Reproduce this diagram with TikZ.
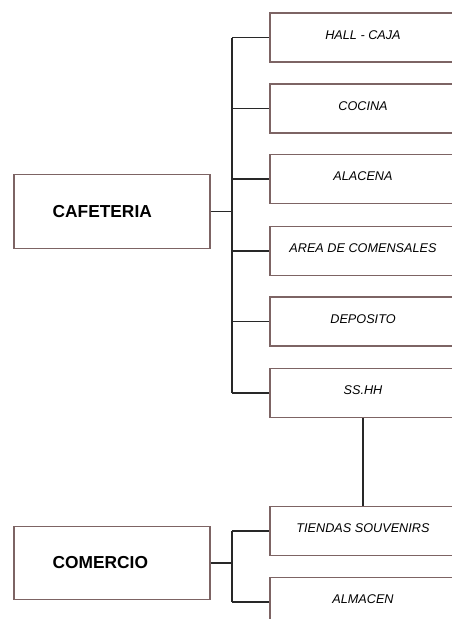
\documentclass[tikz,border=0pt]{standalone}
\usepackage{fontspec}
\setmainfont{Liberation Sans}
\usetikzlibrary{positioning}

\definecolor{boxline}{RGB}{125,100,100}
\definecolor{wire}{RGB}{40,40,40}

\begin{document}
\begin{tikzpicture}[x=0.75pt, y=-0.75pt,
  area/.style={draw=boxline, line width=0.8pt, minimum height=55pt,
    inner xsep=29pt, text width=89pt, align=left,
    font=\bfseries\fontsize{13}{15}\selectfont},
  room/.style={draw=boxline, line width=0.8pt, minimum width=139.5pt, minimum height=36.75pt,
    text depth=4pt, font=\itshape\fontsize{9.5}{11}\selectfont},
  link/.style={draw=wire, line width=0.9pt}]
\useasboundingbox (0,0) rectangle (452,619);
\clip (0,0) rectangle (452,619);

% main areas
\node[area] (cafe) at (112,211.5) {CAFETERIA};
\node[area] (shop) at (112,563) {COMERCIO};

% rooms
\node[room] (r1) at (363,37.5) {HALL - CAJA};
\node[room] (r2) at (363,108.5) {COCINA};
\node[room] (r3) at (363,179) {ALACENA};
\node[room] (r4) at (363,251) {AREA DE COMENSALES};
\node[room] (r5) at (363,321.5) {DEPOSITO};
\node[room] (r6) at (363,393) {SS.HH};
\node[room] (r7) at (363,531) {TIENDAS SOUVENIRS};
\node[room] (r8) at (363,602) {ALMACEN};

% cafeteria branches
\coordinate (cbus) at (232,211.5);
\draw[link] (cafe) -- (cbus);
\draw[link] (cbus |- r1.west) -- (cbus |- r6.west);
\foreach \r in {r1,r2,r3,r4,r5,r6}
  \draw[link] (cbus |- \r.west) -- (\r.west);

% link between groups
\draw[link] (r6) -- (r7);

% comercio branches
\coordinate (mbus) at (232,563);
\draw[link] (shop) -- (mbus);
\draw[link] (mbus |- r7.west) -- (mbus |- r8.west);
\foreach \r in {r7,r8}
  \draw[link] (mbus |- \r.west) -- (\r.west);
\end{tikzpicture}
\end{document}
